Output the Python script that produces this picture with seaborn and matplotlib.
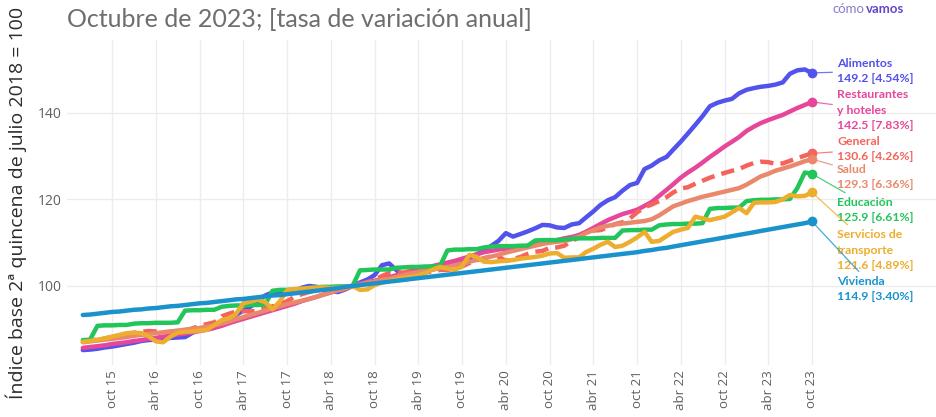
import pandas as pd
import numpy as np
import matplotlib
matplotlib.use("Agg")
import matplotlib.pyplot as plt
import matplotlib.dates as mdates
import seaborn as sns

# ---------------- data (monthly, Jun 2015 - Oct 2023) ----------------
fechas = pd.date_range("2015-06-01", "2023-10-01", freq="MS")

alimentos = [
    85.2, 85.3, 85.5, 85.8, 86.0, 86.3, 86.6,
    86.9, 87.3, 87.5, 87.6, 87.8, 88.0, 88.1, 88.2, 89.2, 90.0, 90.4, 90.8,
    91.8, 92.5, 93.3, 94.3, 95.2, 96.5, 97.8, 98.5, 98.6, 98.3, 98.7, 99.6,
    100.0, 99.8, 99.3, 98.8, 98.6, 99.2, 100.0, 100.8, 101.5, 102.5, 104.8, 105.2,
    103.6, 102.4, 102.8, 103.2, 103.5, 103.8, 104.3, 104.6, 105.0, 105.6, 106.5, 107.3,
    108.2, 109.3, 110.4, 112.2, 111.4, 112.0, 112.6, 113.3, 114.1, 114.0, 113.5, 113.4,
    114.2, 114.5, 115.8, 117.2, 118.7, 119.8, 120.5, 122.0, 123.3, 123.8, 127.0, 127.8,
    129.0, 129.8, 131.5, 133.3, 135.2, 137.2, 139.2, 141.5, 142.3, 142.8, 143.2, 144.5,
    145.3, 145.7, 146.0, 146.2, 146.5, 147.0, 149.0, 149.8, 150.0, 149.2,
]
restaurantes = [
    85.7, 85.9, 86.1, 86.3, 86.6, 86.8, 87.0,
    87.3, 87.5, 87.8, 88.0, 88.3, 88.5, 88.8, 89.0, 89.3, 89.6, 89.9, 90.3,
    90.8, 91.4, 91.9, 92.4, 92.9, 93.4, 93.9, 94.4, 94.9, 95.4, 95.9, 96.5,
    97.0, 97.5, 98.0, 98.5, 99.0, 99.5, 100.0, 100.4, 100.8, 101.2, 101.6, 102.0,
    102.5, 103.0, 103.4, 103.8, 104.2, 104.6, 105.0, 105.4, 105.8, 106.3, 106.8, 107.3,
    107.8, 108.1, 108.4, 108.6, 108.8, 109.0, 109.3, 109.6, 109.9, 110.2, 110.6, 111.0,
    111.3, 111.8, 112.5, 113.4, 114.3, 115.2, 115.9, 116.6, 117.1, 117.6, 118.5, 119.4,
    120.8, 122.2, 123.5, 125.0, 126.2, 127.3, 128.5, 129.8, 131.0, 132.2, 133.3, 134.4,
    135.8, 136.8, 137.6, 138.3, 138.9, 139.5, 140.3, 141.1, 141.8, 142.5,
]
general = [
    87.3, 87.4, 87.6, 87.9, 88.2, 88.6, 88.9,
    89.2, 89.4, 89.6, 89.5, 89.3, 89.4, 89.6, 89.8, 90.2, 90.8, 91.2, 91.6,
    93.0, 93.6, 94.1, 94.2, 94.1, 94.3, 94.8, 95.3, 95.8, 96.5, 97.5, 98.1,
    98.6, 99.0, 99.3, 99.1, 98.9, 99.3, 100.0, 100.5, 100.9, 101.4, 102.3, 103.0,
    103.1, 103.1, 103.5, 103.5, 103.2, 103.3, 103.7, 103.7, 104.0, 104.5, 105.3, 105.9,
    106.4, 106.9, 106.8, 105.8, 106.2, 106.7, 107.4, 107.9, 108.1, 108.8, 108.9, 109.3,
    110.4, 111.2, 112.3, 112.8, 112.9, 113.5, 114.3, 114.7, 115.6, 117.0, 118.2, 118.8,
    119.6, 120.5, 121.6, 122.5, 122.8, 123.6, 124.3, 125.0, 125.6, 126.1, 126.6, 127.0,
    127.8, 128.4, 128.7, 128.6, 128.2, 128.3, 128.9, 129.5, 130.1, 130.6,
]
salud = [
    87.0, 87.2, 87.4, 87.6, 87.8, 88.0, 88.2,
    88.5, 88.7, 88.9, 89.1, 89.3, 89.5, 89.7, 89.9, 90.1, 90.3, 90.6, 90.9,
    91.3, 91.8, 92.3, 92.8, 93.3, 93.8, 94.3, 94.8, 95.3, 95.8, 96.2, 96.6,
    97.0, 97.5, 98.0, 98.5, 99.0, 99.5, 100.0, 100.3, 100.7, 101.0, 101.4, 101.7,
    102.1, 102.5, 102.9, 103.2, 103.5, 103.8, 104.1, 104.4, 104.8, 105.2, 105.6, 106.0,
    106.4, 106.8, 107.2, 107.7, 108.1, 108.5, 108.9, 109.3, 109.7, 110.0, 110.2, 110.4,
    110.8, 111.4, 112.2, 112.9, 113.5, 113.9, 114.2, 114.4, 114.6, 114.8, 115.0, 115.4,
    116.3, 117.4, 118.4, 119.0, 119.6, 120.1, 120.6, 121.0, 121.4, 121.8, 122.2, 122.6,
    123.4, 124.4, 125.3, 125.9, 126.6, 127.1, 127.6, 128.2, 128.8, 129.3,
]
educacion = [
    87.5, 87.6, 90.8, 90.9, 90.9, 91.0, 91.0,
    91.3, 91.4, 91.4, 91.5, 91.5, 91.5, 91.6, 94.3, 94.4, 94.4, 94.5, 94.5,
    95.2, 95.4, 95.5, 95.5, 95.6, 95.6, 95.7, 98.9, 99.1, 99.1, 99.2, 99.2,
    99.6, 99.7, 99.8, 99.8, 99.9, 99.9, 100.0, 103.6, 103.7, 103.8, 103.8, 103.8,
    104.2, 104.3, 104.4, 104.4, 104.5, 104.5, 104.6, 108.2, 108.4, 108.4, 108.5, 108.5,
    108.9, 109.1, 109.2, 109.2, 109.2, 109.3, 109.3, 110.5, 110.6, 110.6, 110.6, 110.7,
    110.9, 111.0, 111.0, 111.0, 111.1, 111.1, 111.1, 112.8, 112.9, 112.9, 113.0, 113.0,
    114.0, 114.2, 114.3, 114.3, 114.4, 114.4, 114.5, 117.8, 118.0, 118.0, 118.1, 118.1,
    119.6, 119.8, 119.9, 119.9, 120.0, 120.0, 120.1, 122.6, 126.2, 125.9,
]
transporte = [
    87.1, 87.3, 87.6, 87.9, 88.3, 88.7, 89.1,
    89.2, 89.1, 88.4, 87.2, 87.0, 88.3, 89.2, 89.4, 89.5, 89.7, 89.9, 91.0,
    92.1, 92.6, 93.5, 96.0, 96.4, 96.8, 96.3, 94.6, 96.5, 99.0, 99.3, 99.4,
    99.5, 99.6, 99.7, 99.5, 99.6, 99.8, 100.0, 99.1, 99.2, 100.2, 100.8, 101.2,
    101.6, 101.9, 102.1, 102.4, 103.0, 103.8, 104.4, 104.0, 103.7, 104.5, 107.2, 106.7,
    105.6, 105.5, 105.7, 105.8, 106.0, 106.3, 106.5, 106.7, 107.0, 107.5, 107.6, 106.5,
    106.6, 106.6, 107.8, 108.6, 109.5, 110.2, 109.0, 109.3, 110.2, 111.2, 112.5, 110.2,
    110.4, 111.5, 112.5, 113.0, 113.4, 116.0, 115.6, 115.2, 115.6, 116.0, 117.0, 118.0,
    116.8, 119.2, 119.3, 119.3, 119.4, 120.0, 121.0, 120.7, 120.8, 121.6,
]
vivienda = [
    93.3, 93.4, 93.6, 93.8, 94.0, 94.1, 94.3,
    94.5, 94.6, 94.8, 94.9, 95.1, 95.3, 95.4, 95.6, 95.8, 96.0, 96.1, 96.3,
    96.5, 96.7, 96.9, 97.0, 97.2, 97.4, 97.6, 97.8, 97.9, 98.1, 98.3, 98.5,
    98.7, 98.9, 99.1, 99.3, 99.5, 99.8, 100.0, 100.2, 100.4, 100.6, 100.8, 101.0,
    101.2, 101.4, 101.6, 101.8, 102.0, 102.2, 102.4, 102.6, 102.8, 103.0, 103.2, 103.4,
    103.6, 103.8, 104.0, 104.2, 104.4, 104.6, 104.8, 105.0, 105.2, 105.4, 105.6, 105.8,
    106.0, 106.2, 106.4, 106.6, 106.8, 107.0, 107.2, 107.4, 107.6, 107.8, 108.1, 108.3,
    108.6, 108.8, 109.1, 109.4, 109.7, 110.0, 110.3, 110.6, 110.9, 111.2, 111.5, 111.8,
    112.1, 112.4, 112.7, 113.0, 113.3, 113.6, 113.9, 114.2, 114.5, 114.9,
]

series_nombres = ["Alimentos", "Restaurantes\ny hoteles", "General", "Salud",
                  "Educación", "Servicios de\ntransporte", "Vivienda"]
series_valores = [alimentos, restaurantes, general, salud, educacion, transporte, vivienda]
variacion_anual = [4.54, 7.83, 4.26, 6.36, 6.61, 4.89, 3.40]
colores = ["#5252EC", "#E6479A", "#F4645B", "#E9886B", "#22C55A", "#EDAD2F", "#1A93CC"]

tick_fechas = pd.date_range("2015-10-01", "2023-10-01", freq="6MS")
meses = {4: "abr", 10: "oct"}
tick_labels = [f"{meses[d.month]} {d.strftime('%y')}" for d in tick_fechas]

# ---------------- figure ----------------
sns.set_theme(style="white")
plt.rcParams["font.family"] = ["Open Sans", "DejaVu Sans"]

W, H = 937, 417
fig = plt.figure(figsize=(W / 100, H / 100), dpi=100)
ax = fig.add_axes([67 / W, 1 - 365 / H, 1 - 67 / W, (365 - 40) / H])

for nombre, vals, col in zip(series_nombres, series_valores, colores):
    ls = "--" if nombre == "General" else "-"
    sns.lineplot(x=fechas, y=vals, ax=ax, color=col, lw=3.2, linestyle=ls,
                 solid_capstyle="round", dash_capstyle="butt", legend=False)
    if ls == "--":
        ax.lines[-1].set_dashes((3.0, 1.6))
    ax.plot([fechas[-1]], [vals[-1]], "o", color=col, ms=6, zorder=5)

# axis ranges
x0 = pd.Timestamp("2015-03-27")
x1 = pd.Timestamp("2025-03-06")
ax.set_xlim(x0, x1)
ax.set_ylim(81.75, 156.8)

ax.set_xticks(tick_fechas)
ax.set_xticklabels(tick_labels, rotation=90, fontsize=9.5, color="#5f5f5f")
ax.set_yticks([100, 120, 140])
ax.set_yticklabels(["100", "120", "140"], fontsize=10, color="#5f5f5f")
ax.tick_params(axis="both", length=0, pad=4)
ax.grid(True, color="#ECECEC", lw=1)
for s in ax.spines.values():
    s.set_visible(False)
ax.set_xlabel("")
ax.set_ylabel("")

fig.text(16 / W, 1 - 203 / H, "Índice base 2ª quincena de julio 2018 = 100",
         rotation=90, ha="center", va="center", fontsize=14, color="#2b2b2b")

# subtitle
fig.text(67 / W, 1 - 27 / H, "Octubre de 2023; [tasa de variación anual]",
         ha="left", va="baseline", fontsize=18, color="#6e6e6e",
         family=["Lato", "DejaVu Sans"])

# logo
fig.text(833 / W, 1 - 13 / H, "cómo", ha="left", va="baseline", fontsize=9.5,
         color="#8C7BD0", family=["Lato", "DejaVu Sans"])
fig.text(866 / W, 1 - 13 / H, "vamos", ha="left", va="baseline", fontsize=9.5,
         color="#6548C9", fontweight="bold", family=["Lato", "DejaVu Sans"])

# end annotations
label_y = [71, 110, 149, 177, 210, 250, 289]
for nombre, vals, col, var, ly in zip(series_nombres, series_valores, colores,
                                      variacion_anual, label_y):
    txt = f"{nombre}\n{vals[-1]:.1f} [{var:.2f}%]"
    ax.annotate(txt, xy=(mdates.date2num(fechas[-1]), vals[-1]), xycoords="data",
                xytext=(837, H - ly), textcoords="figure pixels",
                ha="left", va="center", fontsize=8.8, fontweight="bold",
                color=col, linespacing=1.5, family=["Lato", "DejaVu Sans"],
                arrowprops=dict(arrowstyle="-", color=col, lw=0.9, alpha=0.8,
                                shrinkA=1, shrinkB=3))

fig.savefig("out.png", dpi=100)
